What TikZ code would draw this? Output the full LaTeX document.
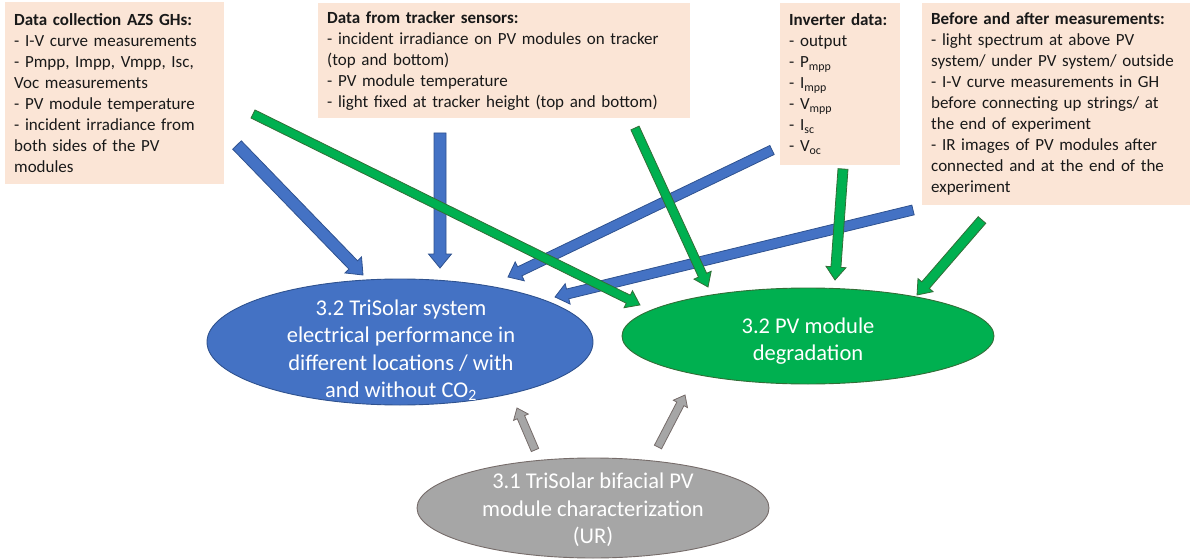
\documentclass[tikz,border=0pt]{standalone}
\usepackage{fontspec}
\setmainfont{Carlito}
\usetikzlibrary{shapes.geometric,calc}
\definecolor{boxfill}{RGB}{251,229,214}
\definecolor{bblue}{RGB}{68,114,196}
\definecolor{bbluedark}{RGB}{47,82,143}
\definecolor{bgreen}{RGB}{0,176,80}
\definecolor{bgreendark}{RGB}{50,110,55}
\definecolor{bgray}{RGB}{166,166,166}
\definecolor{bgraydark}{RGB}{118,108,106}
\definecolor{txt}{RGB}{25,25,25}
% #1 style, #2 from, #3 to, #4 half shaft, #5 half head, #6 head length
\newcommand\blockarrow[6]{%
  \path let \p1=($(#3)-(#2)$), \n1={veclen(\x1,\y1)}, \n2={atan2(\y1,\x1)} in
    \pgfextra{\xdef\baL{\n1}\xdef\baA{\n2}};
  \draw[#1, shift={(#2)}, rotate=\baA]
    (0,-#4) -- (\baL-#6,-#4) -- (\baL-#6,-#5) -- (\baL,0) -- (\baL-#6,#5)
    -- (\baL-#6,#4) -- (0,#4) -- cycle;
}
\begin{document}
\begin{tikzpicture}[x=1pt,y=1pt,
  infobox/.style={fill=boxfill, draw=none, anchor=north west, align=left,
    inner xsep=9pt, inner ysep=5pt, font=\fontsize{17}{21}\selectfont, text=txt},
  oval/.style={ellipse, inner sep=0pt, line width=0.9pt},
  ovaltext/.style={align=center, text=white, font=\fontsize{22.5}{27.5}\selectfont},
  bluearrow/.style={fill=bblue, draw=bbluedark, line width=0.8pt},
  greenarrow/.style={fill=bgreen, draw=bgreendark, line width=0.8pt},
  grayarrow/.style={fill=bgray, draw=bgraydark, line width=0.8pt}]
\useasboundingbox (0,0) rectangle (1192,-559);

% information boxes
\node[infobox, text width=201pt, minimum height=182pt] (box1) at (5,-2)
 {\textbf{Data collection AZS GHs:}\\
  - I-V curve measurements\\
  - Pmpp, Impp, Vmpp, Isc,\\
  Voc measurements\\
  - PV module temperature\\
  - incident irradiance from\\
  both sides of the PV\\
  modules};
\node[infobox, text width=354pt, minimum height=115pt] (box2) at (318,-3)
 {\textbf{Data from tracker sensors:}\\
  - incident irradiance on PV modules on tracker\\
  (top and bottom)\\
  - PV module temperature\\
  - light fixed at tracker height (top and bottom)};
\node[infobox, text width=102pt, minimum height=162pt] (box3) at (780,-3)
 {\textbf{Inverter data:}\\
  - output\\
  - P\textsubscript{mpp}\\
  - I\textsubscript{mpp}\\
  - V\textsubscript{mpp}\\
  - I\textsubscript{sc}\\
  - V\textsubscript{oc}};
\node[infobox, text width=250pt, minimum height=202pt] (box4) at (922,-3)
 {\textbf{Before and after measurements:}\\
  - light spectrum at above PV\\
  system/ under PV system/ outside\\
  - I-V curve measurements in GH\\
  before connecting up strings/ at\\
  the end of experiment\\
  - IR images of PV modules after\\
  connected and at the end of the\\
  experiment};

% ovals
\node[oval, fill=bblue, draw=bbluedark, minimum width=386pt, minimum height=126pt] (perf) at (400,-342) {};
\node[ovaltext] (perftext) at (401,-350)
 {3.2 TriSolar system\\electrical performance in\\different locations / with\\and without CO\textsubscript{2}};
\node[oval, fill=bgreen, draw=bgreendark, minimum width=372pt, minimum height=96pt] (degr) at (808,-336) {};
\node[ovaltext] (degrtext) at (808,-341) {3.2 PV module\\degradation};
\node[oval, fill=bgray, draw=bgraydark, minimum width=352pt, minimum height=100pt] (char) at (593,-508) {};
\node[ovaltext] (chartext) at (593,-510) {3.1 TriSolar bifacial PV\\module characterization\\(UR)};

% arrow end points
\coordinate (b1s) at (237,-145); \coordinate (b1e) at (363,-275);
\coordinate (b2s) at (440,-133); \coordinate (b2e) at (440,-268);
\coordinate (b3s) at (772,-150); \coordinate (b3e) at (508,-277);
\coordinate (b4s) at (913,-210); \coordinate (b4e) at (555,-297);
\coordinate (g1s) at (253,-114); \coordinate (g1e) at (640,-305);
\coordinate (g2s) at (635,-128); \coordinate (g2e) at (708,-287);
\coordinate (g3s) at (843,-169); \coordinate (g3e) at (835,-280);
\coordinate (g4s) at (982,-220); \coordinate (g4e) at (917,-295);
\coordinate (r1s) at (535,-450); \coordinate (r1e) at (517,-408);
\coordinate (r2s) at (658,-447); \coordinate (r2e) at (685,-395);

% blue arrows
\blockarrow{bluearrow}{b1s}{b1e}{6}{11.5}{14}
\blockarrow{bluearrow}{b2s}{b2e}{6}{11.5}{14}
\blockarrow{bluearrow}{b3s}{b3e}{5}{10.5}{13}
\blockarrow{bluearrow}{b4s}{b4e}{5}{10.5}{13}
% green arrows
\blockarrow{greenarrow}{g1s}{g1e}{4.5}{9.5}{13}
\blockarrow{greenarrow}{g2s}{g2e}{4.5}{9.5}{13}
\blockarrow{greenarrow}{g3s}{g3e}{5}{10}{13}
\blockarrow{greenarrow}{g4s}{g4e}{5}{10}{13}
% gray arrows
\blockarrow{grayarrow}{r1s}{r1e}{4}{8}{10}
\blockarrow{grayarrow}{r2s}{r2e}{4}{8}{10}
\end{tikzpicture}
\end{document}
